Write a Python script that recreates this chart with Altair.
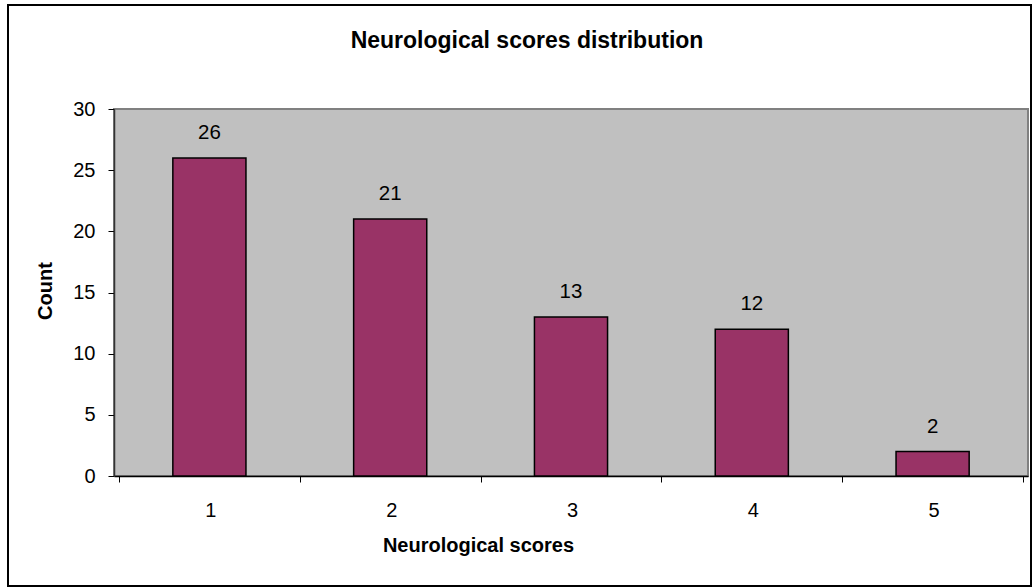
import altair as alt
import pandas as pd

# Neurological score categories and how many patients fell in each
scores = [1, 2, 3, 4, 5]
counts = [26, 21, 13, 12, 2]

y_ticks = [0, 5, 10, 15, 20, 25, 30]
x_edges = [0.5, 1.5, 2.5, 3.5, 4.5, 5.5]

# plot-area geometry (pixels)
W, H = 914, 367
PAD_L, PAD_T = 114, 109
TOTAL_W, TOTAL_H = 1032, 587
FONT = "Liberation Sans"

df = pd.DataFrame({"score": scores, "count": counts})

x_enc = alt.X(
    "score:Q",
    scale=alt.Scale(domain=[0.5, 5.5], nice=False, zero=False),
    axis=alt.Axis(
        title="Neurological scores",
        values=x_edges,
        labelExpr="datum.value < 5 ? format(datum.value + 0.5, 'd') : ''",
        labelOffset=W / 10,
        labelOverlap=False,
        labelFlush=False,
        labelBound=False,
        labelPadding=18,
        tickSize=6,
        tickColor="#000000",
        domainColor="#000000",
        domainWidth=1.5,
        grid=False,
        titleX=478 - PAD_L,
        titleY=69,
        titleBaseline="middle",
    ),
)

y_enc = alt.Y(
    "count:Q",
    scale=alt.Scale(domain=[0, 30], nice=False),
    axis=alt.Axis(
        title="Count",
        values=y_ticks,
        tickSize=6,
        tickColor="#000000",
        domainColor="#333333",
        domainWidth=1.5,
        labelPadding=13,
        grid=False,
        titleAngle=-90,
        titleX=45 - PAD_L,
        titleY=H / 2 - 2,
        titleAlign="center",
        titleBaseline="middle",
    ),
)

bars = alt.Chart(df).mark_bar(
    size=W / 5 * 0.4,
    color="#993366",
    stroke="#000000",
    strokeWidth=1.5,
).encode(x=x_enc, y=y_enc)

labels = alt.Chart(df).mark_text(
    baseline="alphabetic",
    dy=-19,
    fontSize=20.5,
    font=FONT,
    color="#000000",
).encode(x="score:Q", y="count:Q", text="count:Q")

blank = alt.Data(values=[{}])

# outer chart border
frame = alt.Chart(blank).mark_rect(
    fillOpacity=0,
    stroke="#000000",
    strokeWidth=2,
).encode(
    x=alt.value(8 - PAD_L),
    x2=alt.value(1031 - PAD_L),
    y=alt.value(5 - PAD_T),
    y2=alt.value(586 - PAD_T),
)

# chart title
title = alt.Chart(blank).mark_text(
    font=FONT,
    fontSize=23,
    fontWeight="bold",
    color="#000000",
    align="center",
    baseline="middle",
).encode(
    x=alt.value(527 - PAD_L),
    y=alt.value(41 - PAD_T),
    text=alt.value("Neurological scores distribution"),
)

chart = (
    alt.layer(frame, bars, labels, title)
    .properties(
        width=W,
        height=H,
        autosize=alt.AutoSizeParams(type="none"),
        padding={"left": PAD_L, "top": PAD_T, "right": TOTAL_W - PAD_L - W, "bottom": TOTAL_H - PAD_T - H},
        background="#FFFFFF",
    )
    .configure_view(fill="#C0C0C0", stroke="#808080", strokeWidth=2)
    .configure_axis(
        labelFont=FONT,
        labelFontSize=20,
        labelColor="#000000",
        titleFont=FONT,
        titleFontSize=20,
        titleFontWeight="bold",
        titleColor="#000000",
    )
)

chart.save("out.html", embed_options={"renderer": "svg", "actions": False})
